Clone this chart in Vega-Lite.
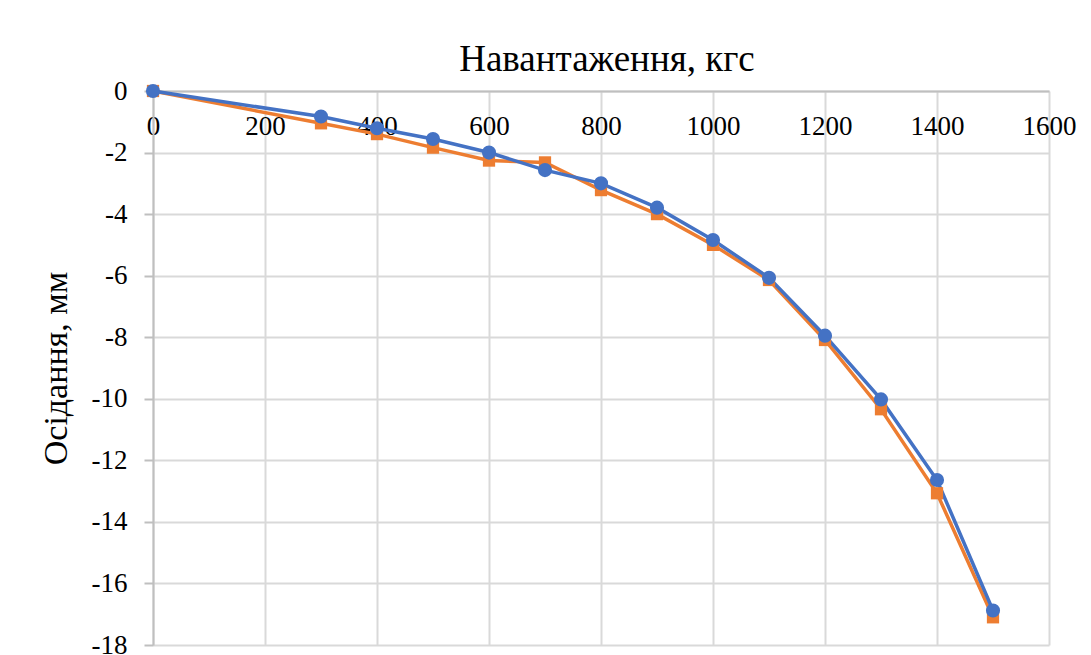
{
  "$schema": "https://vega.github.io/schema/vega-lite/v6.json",
  "width": 896,
  "height": 554,
  "autosize": {"type": "none"},
  "padding": {"left": 153, "top": 91, "right": 42, "bottom": 10},
  "background": "white",
  "title": {
    "text": "Навантаження,  кгс",
    "font": "Liberation Serif",
    "fontSize": 37,
    "fontWeight": "normal",
    "color": "#000000",
    "anchor": "middle",
    "offset": -2,
    "dx": 6
  },
  "config": {
    "view": {"stroke": null},
    "axis": {"labelFont": "Liberation Serif", "titleFont": "Liberation Serif", "labelColor": "#000000", "titleColor": "#000000", "titleFontWeight": "normal"}
  },
  "data": {
    "values": [
      {"load": 0, "settle": 0, "series": "Серія 1"},
      {"load": 300, "settle": -1.05, "series": "Серія 1"},
      {"load": 400, "settle": -1.4, "series": "Серія 1"},
      {"load": 500, "settle": -1.84, "series": "Серія 1"},
      {"load": 600, "settle": -2.26, "series": "Серія 1"},
      {"load": 700, "settle": -2.32, "series": "Серія 1"},
      {"load": 800, "settle": -3.22, "series": "Серія 1"},
      {"load": 900, "settle": -4.0, "series": "Серія 1"},
      {"load": 1000, "settle": -5.0, "series": "Серія 1"},
      {"load": 1100, "settle": -6.14, "series": "Серія 1"},
      {"load": 1200, "settle": -8.09, "series": "Серія 1"},
      {"load": 1300, "settle": -10.34, "series": "Серія 1"},
      {"load": 1400, "settle": -13.07, "series": "Серія 1"},
      {"load": 1500, "settle": -17.1, "series": "Серія 1"},
      {"load": 0, "settle": 0, "series": "Серія 2"},
      {"load": 300, "settle": -0.83, "series": "Серія 2"},
      {"load": 400, "settle": -1.21, "series": "Серія 2"},
      {"load": 500, "settle": -1.56, "series": "Серія 2"},
      {"load": 600, "settle": -2.0, "series": "Серія 2"},
      {"load": 700, "settle": -2.57, "series": "Серія 2"},
      {"load": 800, "settle": -3.0, "series": "Серія 2"},
      {"load": 900, "settle": -3.79, "series": "Серія 2"},
      {"load": 1000, "settle": -4.84, "series": "Серія 2"},
      {"load": 1100, "settle": -6.07, "series": "Серія 2"},
      {"load": 1200, "settle": -7.95, "series": "Серія 2"},
      {"load": 1300, "settle": -10.02, "series": "Серія 2"},
      {"load": 1400, "settle": -12.64, "series": "Серія 2"},
      {"load": 1500, "settle": -16.88, "series": "Серія 2"}
    ]
  },
  "encoding": {
    "x": {
      "field": "load", "type": "quantitative",
      "scale": {"domain": [0, 1600], "nice": false, "zero": false},
      "axis": {
        "orient": "top", "title": null, "values": [0, 200, 400, 600, 800, 1000, 1200, 1400, 1600],
        "format": "d", "labelFlush": false, "labelOverlap": false,
        "labelFontSize": 27, "ticks": false, "labelPadding": -22, "labelBaseline": "top",
        "domainColor": "#bfbfbf", "domainWidth": 2,
        "grid": true, "gridColor": "#d9d9d9", "gridWidth": 2
      }
    },
    "y": {
      "field": "settle", "type": "quantitative",
      "scale": {"domain": [-18, 0], "nice": false, "zero": false},
      "axis": {
        "title": "Осідання,  мм", "titleFontSize": 34, "titlePadding": 18,
        "values": [0, -2, -4, -6, -8, -10, -12, -14, -16, -18],
        "labelExpr": "replace(datum.label, '−', '-')", "labelOverlap": false,
        "labelFontSize": 27, "tickSize": 9, "tickColor": "#bfbfbf", "tickWidth": 2, "labelPadding": 17,
        "domainColor": "#bfbfbf", "domainWidth": 2,
        "grid": true, "gridColor": "#d9d9d9", "gridWidth": 2
      }
    },
    "color": {
      "field": "series", "type": "nominal",
      "scale": {"domain": ["Серія 1", "Серія 2"], "range": ["#ED7D31", "#4472C4"]},
      "legend": null
    }
  },
  "layer": [
    {"mark": {"type": "line", "strokeWidth": 3.5}},
    {
      "mark": {"type": "point", "filled": true, "opacity": 1},
      "encoding": {
        "shape": {"field": "series", "type": "nominal", "scale": {"domain": ["Серія 1", "Серія 2"], "range": ["square", "circle"]}, "legend": null},
        "size": {"field": "series", "type": "nominal", "scale": {"domain": ["Серія 1", "Серія 2"], "range": [150, 200]}, "legend": null}
      }
    }
  ]
}
